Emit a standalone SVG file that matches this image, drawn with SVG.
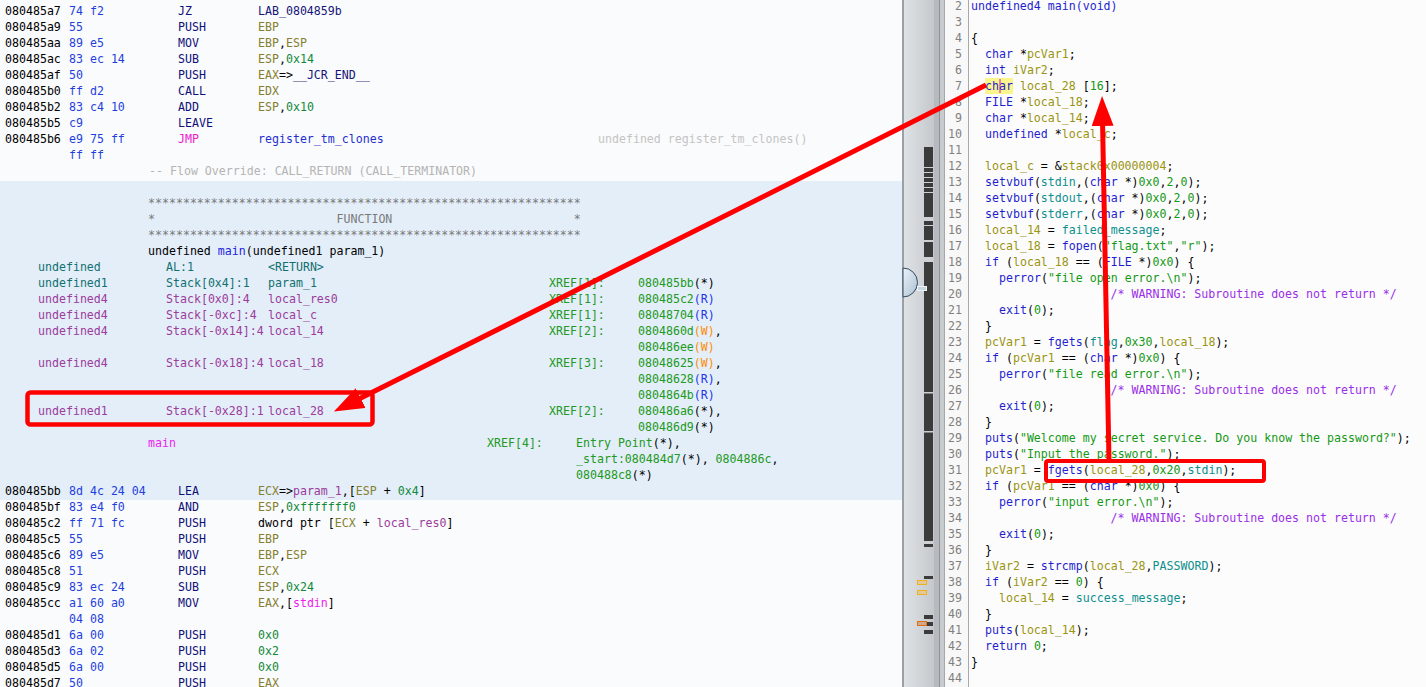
<svg xmlns="http://www.w3.org/2000/svg" width="1426" height="687" viewBox="0 0 1426 687">
<defs>
<linearGradient id="sbg" x1="0" y1="0" x2="1" y2="0"><stop offset="0" stop-color="#dfe2e5"/><stop offset="1" stop-color="#c4c8cc"/></linearGradient>
<linearGradient id="thumb" x1="0" y1="0" x2="1" y2="1"><stop offset="0" stop-color="#eef4f9"/><stop offset="1" stop-color="#a9bfd2"/></linearGradient>
<marker id="ah" viewBox="0 0 30 22" refX="1" refY="11" markerWidth="30" markerHeight="22" markerUnits="userSpaceOnUse" orient="auto"><path d="M0,0 L30,11 L0,22 z" fill="#ff0000"/></marker>
</defs>
<style>
text{font-family:"DejaVu Sans Mono","Liberation Mono",monospace;font-size:11.6px;white-space:pre;fill:#000}
.by{fill:#1f3fe0}.mn{fill:#10107a}.jm{fill:#ee22cc}.rg{fill:#858030}.sc{fill:#128a3a}
.lb{fill:#15157a}.fn{fill:#1f2fd0}.gr{fill:#b4b4b4}.st{fill:#7a7a7a}.tl{fill:#127070}
.pu{fill:#9c3c9c}.xr{fill:#229922}.w{fill:#ff8c00}.r{fill:#2233ee}.mg{fill:#ee22ee}.bl{fill:#1f1fe0}
.ln{fill:#808080}.k{fill:#1f1fd0}.v{fill:#9a9410}.g{fill:#0e8f8f}.c{fill:#149914}.cm{fill:#9a2ee8}
.red{fill:none;stroke:#ff0000}.dk{fill:#3b3b3b}.gap{fill:#cdd1d5}
.conn{stroke:#ff0000;stroke-width:5;fill:none;marker-end:url(#ah)}
</style>

<g id="listing">
<rect x="0" y="0" width="902" height="687" fill="#fafbfc"/>
<rect x="0" y="181" width="902" height="319" fill="#e3eef9"/>
<text y="15"><tspan x="5">080485a7</tspan><tspan x="69" class="by">74 f2</tspan><tspan x="178" class="mn">JZ</tspan><tspan x="258" class="lb">LAB_0804859b</tspan></text>
<text y="31"><tspan x="5">080485a9</tspan><tspan x="69" class="by">55</tspan><tspan x="178" class="mn">PUSH</tspan><tspan x="258" class="rg">EBP</tspan></text>
<text y="47"><tspan x="5">080485aa</tspan><tspan x="69" class="by">89 e5</tspan><tspan x="178" class="mn">MOV</tspan><tspan x="258" class="rg">EBP</tspan><tspan>,</tspan><tspan class="rg">ESP</tspan></text>
<text y="63"><tspan x="5">080485ac</tspan><tspan x="69" class="by">83 ec 14</tspan><tspan x="178" class="mn">SUB</tspan><tspan x="258" class="rg">ESP</tspan><tspan>,</tspan><tspan class="sc">0x14</tspan></text>
<text y="79"><tspan x="5">080485af</tspan><tspan x="69" class="by">50</tspan><tspan x="178" class="mn">PUSH</tspan><tspan x="258" class="rg">EAX</tspan><tspan>=&gt;</tspan><tspan class="lb">__JCR_END__</tspan></text>
<text y="95"><tspan x="5">080485b0</tspan><tspan x="69" class="by">ff d2</tspan><tspan x="178" class="mn">CALL</tspan><tspan x="258" class="rg">EDX</tspan></text>
<text y="111"><tspan x="5">080485b2</tspan><tspan x="69" class="by">83 c4 10</tspan><tspan x="178" class="mn">ADD</tspan><tspan x="258" class="rg">ESP</tspan><tspan>,</tspan><tspan class="sc">0x10</tspan></text>
<text y="127"><tspan x="5">080485b5</tspan><tspan x="69" class="by">c9</tspan><tspan x="178" class="mn">LEAVE</tspan></text>
<text y="143"><tspan x="5">080485b6</tspan><tspan x="69" class="by">e9 75 ff</tspan><tspan x="178" class="jm">JMP</tspan><tspan x="258" class="fn">register_tm_clones</tspan><tspan x="598" fill="#c4c4c4">undefined register_tm_clones()</tspan></text>
<text y="159"><tspan x="69" class="by">ff ff</tspan></text>
<text y="175" x="149" class="gr">-- Flow Override: CALL_RETURN (CALL_TERMINATOR)</text>

<text y="207" x="148" class="st">**************************************************************</text>
<text y="223" class="st"><tspan x="148">*</tspan><tspan x="336.5">FUNCTION</tspan><tspan x="573.8">*</tspan></text>
<text y="239" x="148" class="st">**************************************************************</text>
<text y="255" x="148"><tspan>undefined </tspan><tspan class="bl">main</tspan><tspan>(undefined1 param_1)</tspan></text>
<text y="271" class="tl"><tspan x="38">undefined</tspan><tspan x="166">AL:1</tspan><tspan x="268">&lt;RETURN&gt;</tspan></text>
<text y="287"><tspan x="38" class="tl">undefined1</tspan><tspan x="166" class="tl">Stack[0x4]:1</tspan><tspan x="268" class="tl">param_1</tspan><tspan x="549" class="xr">XREF[1]:</tspan><tspan x="638" class="xr">080485bb</tspan><tspan>(*)</tspan></text>
<text y="303"><tspan x="38" class="pu">undefined4</tspan><tspan x="166" class="pu">Stack[0x0]:4</tspan><tspan x="268" class="pu">local_res0</tspan><tspan x="549" class="xr">XREF[1]:</tspan><tspan x="638" class="xr">080485c2</tspan><tspan class="r">(R)</tspan></text>
<text y="319"><tspan x="38" class="pu">undefined4</tspan><tspan x="166" class="pu">Stack[-0xc]:4</tspan><tspan x="268" class="pu">local_c</tspan><tspan x="549" class="xr">XREF[1]:</tspan><tspan x="638" class="xr">08048704</tspan><tspan class="r">(R)</tspan></text>
<text y="335"><tspan x="38" class="pu">undefined4</tspan><tspan x="166" class="pu">Stack[-0x14]:4</tspan><tspan x="268" class="pu">local_14</tspan><tspan x="549" class="xr">XREF[2]:</tspan><tspan x="638" class="xr">0804860d</tspan><tspan class="w">(W)</tspan><tspan>,</tspan></text>
<text y="351"><tspan x="638" class="xr">080486ee</tspan><tspan class="w">(W)</tspan></text>
<text y="367"><tspan x="38" class="pu">undefined4</tspan><tspan x="166" class="pu">Stack[-0x18]:4</tspan><tspan x="268" class="pu">local_18</tspan><tspan x="549" class="xr">XREF[3]:</tspan><tspan x="638" class="xr">08048625</tspan><tspan class="w">(W)</tspan><tspan>,</tspan></text>
<text y="383"><tspan x="638" class="xr">08048628</tspan><tspan class="r">(R)</tspan><tspan>,</tspan></text>
<text y="399"><tspan x="638" class="xr">0804864b</tspan><tspan class="r">(R)</tspan></text>
<text y="415"><tspan x="38" class="pu">undefined1</tspan><tspan x="166" class="pu">Stack[-0x28]:1</tspan><tspan x="268" class="pu">local_28</tspan><tspan x="549" class="xr">XREF[2]:</tspan><tspan x="638" class="xr">080486a6</tspan><tspan>(*),</tspan></text>
<text y="431"><tspan x="638" class="xr">080486d9</tspan><tspan>(*)</tspan></text>
<text y="447"><tspan x="148" class="mg">main</tspan><tspan x="487" class="xr">XREF[4]:</tspan><tspan x="576" class="xr">Entry Point</tspan><tspan>(*),</tspan></text>
<text y="463"><tspan x="576" class="xr">_start:080484d7</tspan><tspan>(*), </tspan><tspan class="xr">0804886c</tspan><tspan>,</tspan></text>
<text y="479"><tspan x="576" class="xr">080488c8</tspan><tspan>(*)</tspan></text>
<text y="495"><tspan x="5">080485bb</tspan><tspan x="69" class="by">8d 4c 24 04</tspan><tspan x="178" class="mn">LEA</tspan><tspan x="258" class="rg">ECX</tspan><tspan>=&gt;</tspan><tspan class="pu">param_1</tspan><tspan>,[</tspan><tspan class="rg">ESP</tspan><tspan> + </tspan><tspan class="sc">0x4</tspan><tspan>]</tspan></text>
<text y="511"><tspan x="5">080485bf</tspan><tspan x="69" class="by">83 e4 f0</tspan><tspan x="178" class="mn">AND</tspan><tspan x="258" class="rg">ESP</tspan><tspan>,</tspan><tspan class="sc">0xfffffff0</tspan></text>
<text y="527"><tspan x="5">080485c2</tspan><tspan x="69" class="by">ff 71 fc</tspan><tspan x="178" class="mn">PUSH</tspan><tspan x="258">dword ptr [</tspan><tspan class="rg">ECX</tspan><tspan> + </tspan><tspan class="pu">local_res0</tspan><tspan>]</tspan></text>
<text y="543"><tspan x="5">080485c5</tspan><tspan x="69" class="by">55</tspan><tspan x="178" class="mn">PUSH</tspan><tspan x="258" class="rg">EBP</tspan></text>
<text y="559"><tspan x="5">080485c6</tspan><tspan x="69" class="by">89 e5</tspan><tspan x="178" class="mn">MOV</tspan><tspan x="258" class="rg">EBP</tspan><tspan>,</tspan><tspan class="rg">ESP</tspan></text>
<text y="575"><tspan x="5">080485c8</tspan><tspan x="69" class="by">51</tspan><tspan x="178" class="mn">PUSH</tspan><tspan x="258" class="rg">ECX</tspan></text>
<text y="591"><tspan x="5">080485c9</tspan><tspan x="69" class="by">83 ec 24</tspan><tspan x="178" class="mn">SUB</tspan><tspan x="258" class="rg">ESP</tspan><tspan>,</tspan><tspan class="sc">0x24</tspan></text>
<text y="607"><tspan x="5">080485cc</tspan><tspan x="69" class="by">a1 60 a0</tspan><tspan x="178" class="mn">MOV</tspan><tspan x="258" class="rg">EAX</tspan><tspan>,[</tspan><tspan class="mg">stdin</tspan><tspan>]</tspan></text>
<text y="623"><tspan x="69" class="by">04 08</tspan></text>
<text y="639"><tspan x="5">080485d1</tspan><tspan x="69" class="by">6a 00</tspan><tspan x="178" class="mn">PUSH</tspan><tspan x="258" class="sc">0x0</tspan></text>
<text y="655"><tspan x="5">080485d3</tspan><tspan x="69" class="by">6a 02</tspan><tspan x="178" class="mn">PUSH</tspan><tspan x="258" class="sc">0x2</tspan></text>
<text y="671"><tspan x="5">080485d5</tspan><tspan x="69" class="by">6a 00</tspan><tspan x="178" class="mn">PUSH</tspan><tspan x="258" class="sc">0x0</tspan></text>
<text y="687"><tspan x="5">080485d7</tspan><tspan x="69" class="by">50</tspan><tspan x="178" class="mn">PUSH</tspan><tspan x="258" class="rg">EAX</tspan></text>
</g>

<g id="overview-bar">
<rect x="902" y="0" width="2" height="687" fill="#9aa0a6"/>
<rect x="904" y="0" width="30" height="687" fill="url(#sbg)"/>
<rect x="934" y="0" width="5" height="687" fill="#b6babe"/>
<rect x="939" y="0" width="1" height="687" fill="#8c9196"/>
<rect x="940" y="0" width="4" height="687" fill="#c8cbce"/>
<rect x="944" y="0" width="1" height="687" fill="#a4a8ac"/>
<rect class="dk" x="924" y="147" width="9" height="400"/>
<rect class="gap" x="924" y="167" width="9" height="1"/>
<rect class="gap" x="924" y="172" width="9" height="1"/>
<rect class="gap" x="924" y="177" width="9" height="1"/>
<rect class="gap" x="924" y="182" width="9" height="1"/>
<rect class="gap" x="924" y="187" width="9" height="1"/>
<rect class="gap" x="924" y="192" width="9" height="1"/>
<rect class="gap" x="924" y="217" width="9" height="4"/>
<rect class="gap" x="924" y="225" width="9" height="1"/>
<rect class="gap" x="924" y="240" width="9" height="2"/>
<rect class="gap" x="924" y="257" width="9" height="5"/>
<rect class="gap" x="924" y="392" width="9" height="1.5"/>
<rect class="gap" x="924" y="431" width="9" height="1.5"/>
<rect class="gap" x="924" y="541" width="9" height="3"/>
<rect class="dk" x="924" y="576" width="9" height="3"/>
<rect x="917.5" y="580.5" width="9" height="4" fill="#e2c89a" stroke="#f0b020"/>
<rect x="917.5" y="590.5" width="9" height="4" fill="#e2c89a" stroke="#f0b020"/>
<rect class="dk" x="924" y="615" width="9" height="4"/>
<rect class="dk" x="927" y="622" width="6" height="4"/>
<rect x="917.5" y="621.5" width="9" height="4" fill="#d2a88c" stroke="#e07010"/>
<rect class="dk" x="924" y="630" width="9" height="4"/>
<path d="M903,268 A14.5,14.5 0 0 1 903,297 Z" fill="url(#thumb)" stroke="#34495e"/>
<rect x="917.5" y="286.5" width="9" height="4" fill="#c9d5df" stroke="#eef3f7"/>
</g>

<g id="decompiler">
<rect x="945" y="0" width="23" height="687" fill="#f8f8f8"/>
<rect x="968" y="0" width="1" height="687" fill="#a8a8a8"/>
<rect x="969" y="0" width="457" height="687" fill="#fcfcfc"/>
<rect x="985" y="78" width="28" height="16" fill="#fbf58e"/>
<rect x="999" y="79" width="2" height="14" fill="#e8849c"/>
<g class="ln" text-anchor="end">
<text class="ln" x="962" y="10">2</text><text class="ln" x="962" y="26">3</text><text class="ln" x="962" y="42">4</text><text class="ln" x="962" y="58">5</text><text class="ln" x="962" y="74">6</text><text class="ln" x="962" y="90">7</text><text class="ln" x="962" y="106">8</text><text class="ln" x="962" y="122">9</text><text class="ln" x="962" y="138">10</text><text class="ln" x="962" y="154">11</text><text class="ln" x="962" y="170">12</text><text class="ln" x="962" y="186">13</text><text class="ln" x="962" y="202">14</text><text class="ln" x="962" y="218">15</text><text class="ln" x="962" y="234">16</text><text class="ln" x="962" y="250">17</text><text class="ln" x="962" y="266">18</text><text class="ln" x="962" y="282">19</text><text class="ln" x="962" y="298">20</text><text class="ln" x="962" y="314">21</text><text class="ln" x="962" y="330">22</text><text class="ln" x="962" y="346">23</text><text class="ln" x="962" y="362">24</text><text class="ln" x="962" y="378">25</text><text class="ln" x="962" y="394">26</text><text class="ln" x="962" y="410">27</text><text class="ln" x="962" y="426">28</text><text class="ln" x="962" y="442">29</text><text class="ln" x="962" y="458">30</text><text class="ln" x="962" y="474">31</text><text class="ln" x="962" y="490">32</text><text class="ln" x="962" y="506">33</text><text class="ln" x="962" y="522">34</text><text class="ln" x="962" y="538">35</text><text class="ln" x="962" y="554">36</text><text class="ln" x="962" y="570">37</text><text class="ln" x="962" y="586">38</text><text class="ln" x="962" y="602">39</text><text class="ln" x="962" y="618">40</text><text class="ln" x="962" y="634">41</text><text class="ln" x="962" y="650">42</text><text class="ln" x="962" y="666">43</text><text class="ln" x="962" y="682">44</text>
</g>
<text x="971" y="10" class="k">undefined4 main(void)</text>
<text x="971" y="42">{</text>
<text x="985" y="58"><tspan class="k">char</tspan><tspan> *</tspan><tspan class="v">pcVar1</tspan><tspan>;</tspan></text>
<text x="985" y="74"><tspan class="k">int</tspan><tspan> </tspan><tspan class="v">iVar2</tspan><tspan>;</tspan></text>
<text x="985" y="90"><tspan class="k">char</tspan><tspan> </tspan><tspan class="v">local_28</tspan><tspan> [</tspan><tspan class="c">16</tspan><tspan>];</tspan></text>
<text x="985" y="106"><tspan class="k">FILE</tspan><tspan> *</tspan><tspan class="v">local_18</tspan><tspan>;</tspan></text>
<text x="985" y="122"><tspan class="k">char</tspan><tspan> *</tspan><tspan class="v">local_14</tspan><tspan>;</tspan></text>
<text x="985" y="138"><tspan class="k">undefined</tspan><tspan> *</tspan><tspan class="v">local_c</tspan><tspan>;</tspan></text>
<text x="985" y="170"><tspan class="v">local_c</tspan><tspan> = &amp;</tspan><tspan class="v">stack0x00000004</tspan><tspan>;</tspan></text>
<text x="985" y="186"><tspan class="k">setvbuf</tspan><tspan>(</tspan><tspan class="g">stdin</tspan><tspan>,(</tspan><tspan class="k">char</tspan><tspan> *)</tspan><tspan class="c">0x0</tspan><tspan>,</tspan><tspan class="c">2</tspan><tspan>,</tspan><tspan class="c">0</tspan><tspan>);</tspan></text>
<text x="985" y="202"><tspan class="k">setvbuf</tspan><tspan>(</tspan><tspan class="g">stdout</tspan><tspan>,(</tspan><tspan class="k">char</tspan><tspan> *)</tspan><tspan class="c">0x0</tspan><tspan>,</tspan><tspan class="c">2</tspan><tspan>,</tspan><tspan class="c">0</tspan><tspan>);</tspan></text>
<text x="985" y="218"><tspan class="k">setvbuf</tspan><tspan>(</tspan><tspan class="g">stderr</tspan><tspan>,(</tspan><tspan class="k">char</tspan><tspan> *)</tspan><tspan class="c">0x0</tspan><tspan>,</tspan><tspan class="c">2</tspan><tspan>,</tspan><tspan class="c">0</tspan><tspan>);</tspan></text>
<text x="985" y="234"><tspan class="v">local_14</tspan><tspan> = </tspan><tspan class="g">failed_message</tspan><tspan>;</tspan></text>
<text x="985" y="250"><tspan class="v">local_18</tspan><tspan> = </tspan><tspan class="k">fopen</tspan><tspan>(</tspan><tspan class="c">"flag.txt"</tspan><tspan>,</tspan><tspan class="c">"r"</tspan><tspan>);</tspan></text>
<text x="985" y="266"><tspan class="k">if</tspan><tspan> (</tspan><tspan class="v">local_18</tspan><tspan> == (</tspan><tspan class="k">FILE</tspan><tspan> *)</tspan><tspan class="c">0x0</tspan><tspan>) {</tspan></text>
<text x="999" y="282"><tspan class="k">perror</tspan><tspan>(</tspan><tspan class="c">"file open error.\n"</tspan><tspan>);</tspan></text>
<text x="1110.6" y="298" class="cm">/* WARNING: Subroutine does not return */</text>
<text x="999" y="314"><tspan class="k">exit</tspan><tspan>(</tspan><tspan class="c">0</tspan><tspan>);</tspan></text>
<text x="985" y="330">}</text>
<text x="985" y="346"><tspan class="v">pcVar1</tspan><tspan> = </tspan><tspan class="k">fgets</tspan><tspan>(</tspan><tspan class="g">flag</tspan><tspan>,</tspan><tspan class="c">0x30</tspan><tspan>,</tspan><tspan class="v">local_18</tspan><tspan>);</tspan></text>
<text x="985" y="362"><tspan class="k">if</tspan><tspan> (</tspan><tspan class="v">pcVar1</tspan><tspan> == (</tspan><tspan class="k">char</tspan><tspan> *)</tspan><tspan class="c">0x0</tspan><tspan>) {</tspan></text>
<text x="999" y="378"><tspan class="k">perror</tspan><tspan>(</tspan><tspan class="c">"file read error.\n"</tspan><tspan>);</tspan></text>
<text x="1110.6" y="394" class="cm">/* WARNING: Subroutine does not return */</text>
<text x="999" y="410"><tspan class="k">exit</tspan><tspan>(</tspan><tspan class="c">0</tspan><tspan>);</tspan></text>
<text x="985" y="426">}</text>
<text x="985" y="442"><tspan class="k">puts</tspan><tspan>(</tspan><tspan class="c">"Welcome my secret service. Do you know the password?"</tspan><tspan>);</tspan></text>
<text x="985" y="458"><tspan class="k">puts</tspan><tspan>(</tspan><tspan class="c">"Input the password."</tspan><tspan>);</tspan></text>
<text x="985" y="474"><tspan class="v">pcVar1</tspan><tspan> = </tspan><tspan class="k">fgets</tspan><tspan>(</tspan><tspan class="v">local_28</tspan><tspan>,</tspan><tspan class="c">0x20</tspan><tspan>,</tspan><tspan class="g">stdin</tspan><tspan>);</tspan></text>
<text x="985" y="490"><tspan class="k">if</tspan><tspan> (</tspan><tspan class="v">pcVar1</tspan><tspan> == (</tspan><tspan class="k">char</tspan><tspan> *)</tspan><tspan class="c">0x0</tspan><tspan>) {</tspan></text>
<text x="999" y="506"><tspan class="k">perror</tspan><tspan>(</tspan><tspan class="c">"input error.\n"</tspan><tspan>);</tspan></text>
<text x="1110.6" y="522" class="cm">/* WARNING: Subroutine does not return */</text>
<text x="999" y="538"><tspan class="k">exit</tspan><tspan>(</tspan><tspan class="c">0</tspan><tspan>);</tspan></text>
<text x="985" y="554">}</text>
<text x="985" y="570"><tspan class="v">iVar2</tspan><tspan> = </tspan><tspan class="k">strcmp</tspan><tspan>(</tspan><tspan class="v">local_28</tspan><tspan>,</tspan><tspan class="g">PASSWORD</tspan><tspan>);</tspan></text>
<text x="985" y="586"><tspan class="k">if</tspan><tspan> (</tspan><tspan class="v">iVar2</tspan><tspan> == </tspan><tspan class="c">0</tspan><tspan>) {</tspan></text>
<text x="999" y="602"><tspan class="v">local_14</tspan><tspan> = </tspan><tspan class="g">success_message</tspan><tspan>;</tspan></text>
<text x="985" y="618">}</text>
<text x="985" y="634"><tspan class="k">puts</tspan><tspan>(</tspan><tspan class="v">local_14</tspan><tspan>);</tspan></text>
<text x="985" y="650"><tspan class="k">return</tspan><tspan> </tspan><tspan class="c">0</tspan><tspan>;</tspan></text>
<text x="971" y="666">}</text>
</g>

<g id="box-local28">
<rect class="red" x="27.5" y="392.5" width="345" height="32" rx="3" stroke-width="4.5"/>
</g>
<g id="box-fgets">
<rect class="red" x="1046" y="461" width="218" height="20" rx="2" stroke-width="4"/>
</g>

<g id="connectors">
<line class="conn" x1="986" y1="85" x2="359.8" y2="398.6"/>
<line class="conn" x1="1109" y1="461" x2="1102.6" y2="125"/>
</g>
</svg>
